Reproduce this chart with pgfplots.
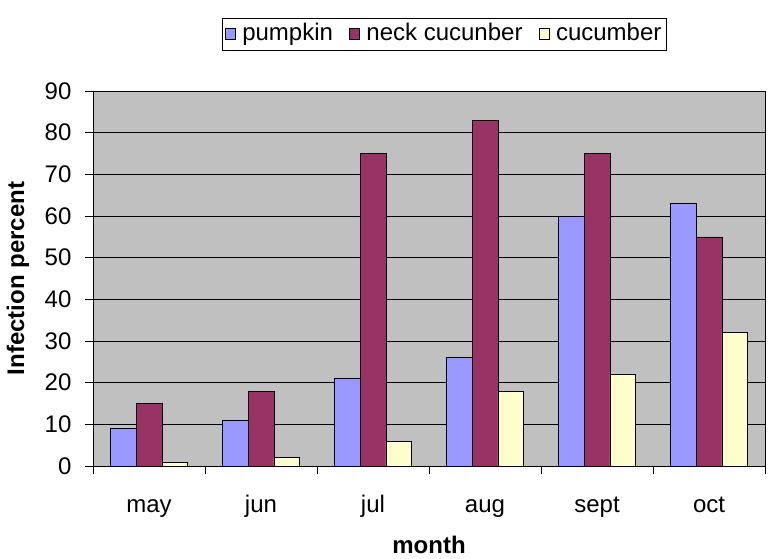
\documentclass[border=0pt]{standalone}
\usepackage{pgfplots}
\pgfplotsset{compat=1.18}
\usepackage{fontspec}
\setmainfont{Liberation Sans}
\definecolor{cpump}{HTML}{9999FF}
\definecolor{cneck}{HTML}{993366}
\definecolor{ccuc}{HTML}{FFFFCC}
\definecolor{bggray}{HTML}{C0C0C0}
\begin{document}
\fontsize{18}{21}\selectfont
\begin{tikzpicture}
\begin{axis}[
  scale only axis,
  width=504pt, height=281.25pt,
  xmin=-0.5, xmax=5.5, ymin=0, ymax=90,
  axis background/.style={fill=bggray},
  ybar=0pt, bar width=19.2pt,
  xtick={0,1,2,3,4,5},
  xticklabels={may,jun,jul,aug,sept,oct},
  minor xtick={-0.5,0.5,1.5,2.5,3.5,4.5,5.5},
  major x tick style={draw=none},
  minor x tick style={black, thin},
  minor tick length=6pt,
  ytick={0,10,...,90},
  major tick length=6pt,
  tick align=outside,
  tick style={black, thin},
  ymajorgrids,
  grid style={black, thin},
  axis line style={black, thin},
  xtick pos=bottom, ytick pos=left,
  /pgf/number format/assume math mode=true,
  tick label style={font=\fontsize{18}{21}\selectfont},
  xticklabel style={anchor=base, yshift=-29pt},
  yticklabel style={anchor=east, xshift=-4pt},
  xlabel={\textbf{month}},
  ylabel={\textbf{Infection percent}},
  xlabel style={at={(axis description cs:0.5,-0.211)}, anchor=center, inner sep=0pt, font=\fontsize{18}{21}\selectfont},
  ylabel style={at={(axis description cs:-0.1116,0.5)}, anchor=center, inner sep=0pt, font=\fontsize{18}{21}\selectfont},
  legend style={at={(axis description cs:0.523,1.109)}, anchor=south, draw=black, fill=white,
    legend columns=3, font=\fontsize{18}{21}\selectfont, inner ysep=2pt, inner xsep=2pt,
    /tikz/every odd column/.append style={column sep=3pt},
    /tikz/every even column/.append style={column sep=10pt}},
  legend image code/.code={\draw[#1, draw=black] (0cm,-0.13cm) rectangle (0.27cm,0.14cm);},
]
\addplot[fill=cpump, draw=black] coordinates {(0,9) (1,11) (2,21) (3,26) (4,60) (5,63)};
\addplot[fill=cneck, draw=black] coordinates {(0,15) (1,18) (2,75) (3,83) (4,75) (5,55)};
\addplot[fill=ccuc, draw=black] coordinates {(0,1) (1,2) (2,6) (3,18) (4,22) (5,32)};
\legend{pumpkin, neck cucunber, cucumber}
\end{axis}
\path (current axis.south west) ++(-69.75pt,-69pt) rectangle ([shift={(3pt,68.25pt)}]current axis.north east);
\end{tikzpicture}
\end{document}
